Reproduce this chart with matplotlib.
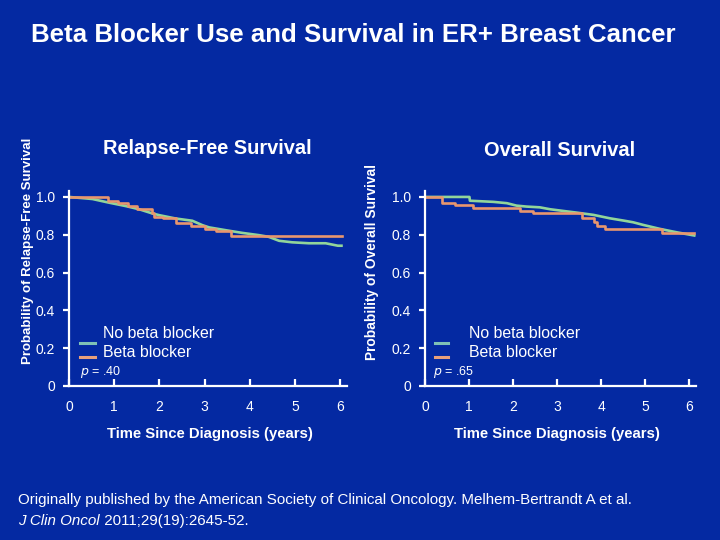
import matplotlib.pyplot as plt
from matplotlib.lines import Line2D

# Relapse-free survival (years, probability)
rfs_none_t = [0, 0.52, 0.88, 1.25, 1.55, 1.84, 1.99, 2.36, 2.73, 2.95, 3.10, 3.47,
              3.83, 4.20, 4.42, 4.65, 4.94, 5.31, 5.68, 5.95, 6.03]
rfs_none_s = [1.0, 0.989, 0.970, 0.952, 0.935, 0.913, 0.904, 0.886, 0.874, 0.851, 0.839, 0.824,
              0.810, 0.798, 0.789, 0.768, 0.760, 0.755, 0.755, 0.742, 0.742]
rfs_bb_t = [0, 0.87, 1.09, 1.31, 1.51, 1.84, 1.88, 2.08, 2.36, 2.71, 3.02, 3.25, 3.58, 6.04]
rfs_bb_s = [1.0, 0.980, 0.966, 0.952, 0.934, 0.913, 0.895, 0.886, 0.863, 0.847, 0.830, 0.819, 0.794, 0.794]

# Overall survival
os_none_t = [0, 1.01, 1.02, 1.55, 1.86, 2.08, 2.31, 2.61, 2.84, 3.14, 3.45, 3.83, 4.20, 4.51,
             4.73, 4.96, 5.34, 5.72, 6.12]
os_none_s = [1.0, 1.0, 0.980, 0.974, 0.967, 0.954, 0.949, 0.945, 0.935, 0.926, 0.917, 0.905, 0.887, 0.875,
             0.866, 0.852, 0.831, 0.813, 0.796]
os_bb_t = [0, 0.38, 0.68, 1.10, 2.16, 2.46, 3.56, 3.85, 3.90, 4.08, 5.38, 6.12]
os_bb_s = [1.0, 0.970, 0.958, 0.940, 0.926, 0.914, 0.891, 0.869, 0.847, 0.831, 0.808, 0.808]

yticks = [0, 0.2, 0.4, 0.6, 0.8, 1.0]
ytick_labels = ["0", "0.2", "0.4", "0.6", "0.8", "1.0"]
xticks = [0, 1, 2, 3, 4, 5, 6]

bg = '#0429A2'
fg = 'white'
green = '#92D59A'
orange = '#E8966E'

plt.rcParams['font.family'] = ['Liberation Sans', 'DejaVu Sans']

fig = plt.figure(figsize=(7.2, 5.4), dpi=100, facecolor=bg)

panels = [
    dict(pos=[0.0958, 0.2852, 0.386, 0.3606], title="Relapse-Free Survival",
         ylabel="Probability of Relapse-Free Survival", none=(rfs_none_t, rfs_none_s),
         bb=(rfs_bb_t, rfs_bb_s), p="$p$ = .40", title_xy=(207, 148), ylab_xy=(28, 251),
         ylab_size=9.5, xlab_xy=(210, 434), text_x=0.122, seg=(0.040, 0.094), p_x=0.040),
    dict(pos=[0.5903, 0.2852, 0.3758, 0.3606], title="Overall Survival",
         ylabel="Probability of Overall Survival", none=(os_none_t, os_none_s),
         bb=(os_bb_t, os_bb_s), p="$p$ = .65", title_xy=(560, 150), ylab_xy=(372, 262),
         ylab_size=9.9, xlab_xy=(557, 434), text_x=0.163, seg=(0.037, 0.085), p_x=0.030),
]

for pnl in panels:
    ax = fig.add_axes(pnl['pos'])
    ax.set_facecolor(bg)
    ax.plot(*pnl['none'], color=green, lw=1.9)
    ax.step(*pnl['bb'], where='post', color=orange, lw=1.9)
    ax.set_xlim(0, 6.15)
    ax.set_ylim(0, 1.03)
    ax.set_xticks(xticks)
    ax.set_yticks(yticks)
    ax.set_yticklabels(ytick_labels)
    for s in ['top', 'right']:
        ax.spines[s].set_visible(False)
    for s in ['left', 'bottom']:
        ax.spines[s].set_color(fg)
        ax.spines[s].set_linewidth(1.6)
    ax.tick_params(axis='x', direction='in', length=5, width=1.6, colors=fg, labelsize=10, pad=10)
    ax.tick_params(axis='y', direction='out', length=4, width=1.6, colors=fg, labelsize=10, pad=6)

    # legend
    tr = ax.transAxes
    ax.add_line(Line2D(pnl['seg'], [0.221, 0.221], transform=tr, color='#7FC1B6', lw=2.2))
    ax.add_line(Line2D(pnl['seg'], [0.149, 0.149], transform=tr, color='#E8A07C', lw=2.2))
    ax.text(pnl['text_x'], 0.272, "No beta blocker", transform=tr, color=fg, fontsize=11.4, va='center')
    ax.text(pnl['text_x'], 0.170, "Beta blocker", transform=tr, color=fg, fontsize=11.4, va='center')
    ax.text(pnl['p_x'], 0.072, pnl['p'], transform=tr, color=fg, fontsize=9, va='center')

    fig.text(pnl['title_xy'][0] / 720, 1 - pnl['title_xy'][1] / 540, pnl['title'],
             color=fg, fontsize=14.4, fontweight='bold', ha='center', va='center')
    fig.text(pnl['ylab_xy'][0] / 720, 1 - pnl['ylab_xy'][1] / 540, pnl['ylabel'],
             color=fg, fontsize=pnl['ylab_size'], fontweight='bold', ha='center', va='center',
             rotation=90)
    fig.text(pnl['xlab_xy'][0] / 720, 1 - pnl['xlab_xy'][1] / 540, "Time Since Diagnosis (years)",
             color=fg, fontsize=10.7, fontweight='bold', ha='center', va='center')

fig.text(353 / 720, 1 - 35 / 540, "Beta Blocker Use and Survival in ER+ Breast Cancer",
         color=fg, fontsize=18.6, fontweight='bold', ha='center', va='center')

fig.text(18 / 720, 1 - 500 / 540,
         "Originally published by the American Society of Clinical Oncology. Melhem-Bertrandt A et al.",
         color=fg, fontsize=10.9, ha='left', va='center')
t1 = fig.text(18 / 720, 1 - 521 / 540, "J Clin Oncol", color=fg, fontsize=10.9,
              style='italic', ha='left', va='center')
fig.canvas.draw()
bb = t1.get_window_extent()
fig.text(bb.x1 / 720, 1 - 521 / 540, " 2011;29(19):2645-52.", color=fg, fontsize=10.9,
         ha='left', va='center')

fig.savefig('out.png', dpi=100, facecolor=bg)
